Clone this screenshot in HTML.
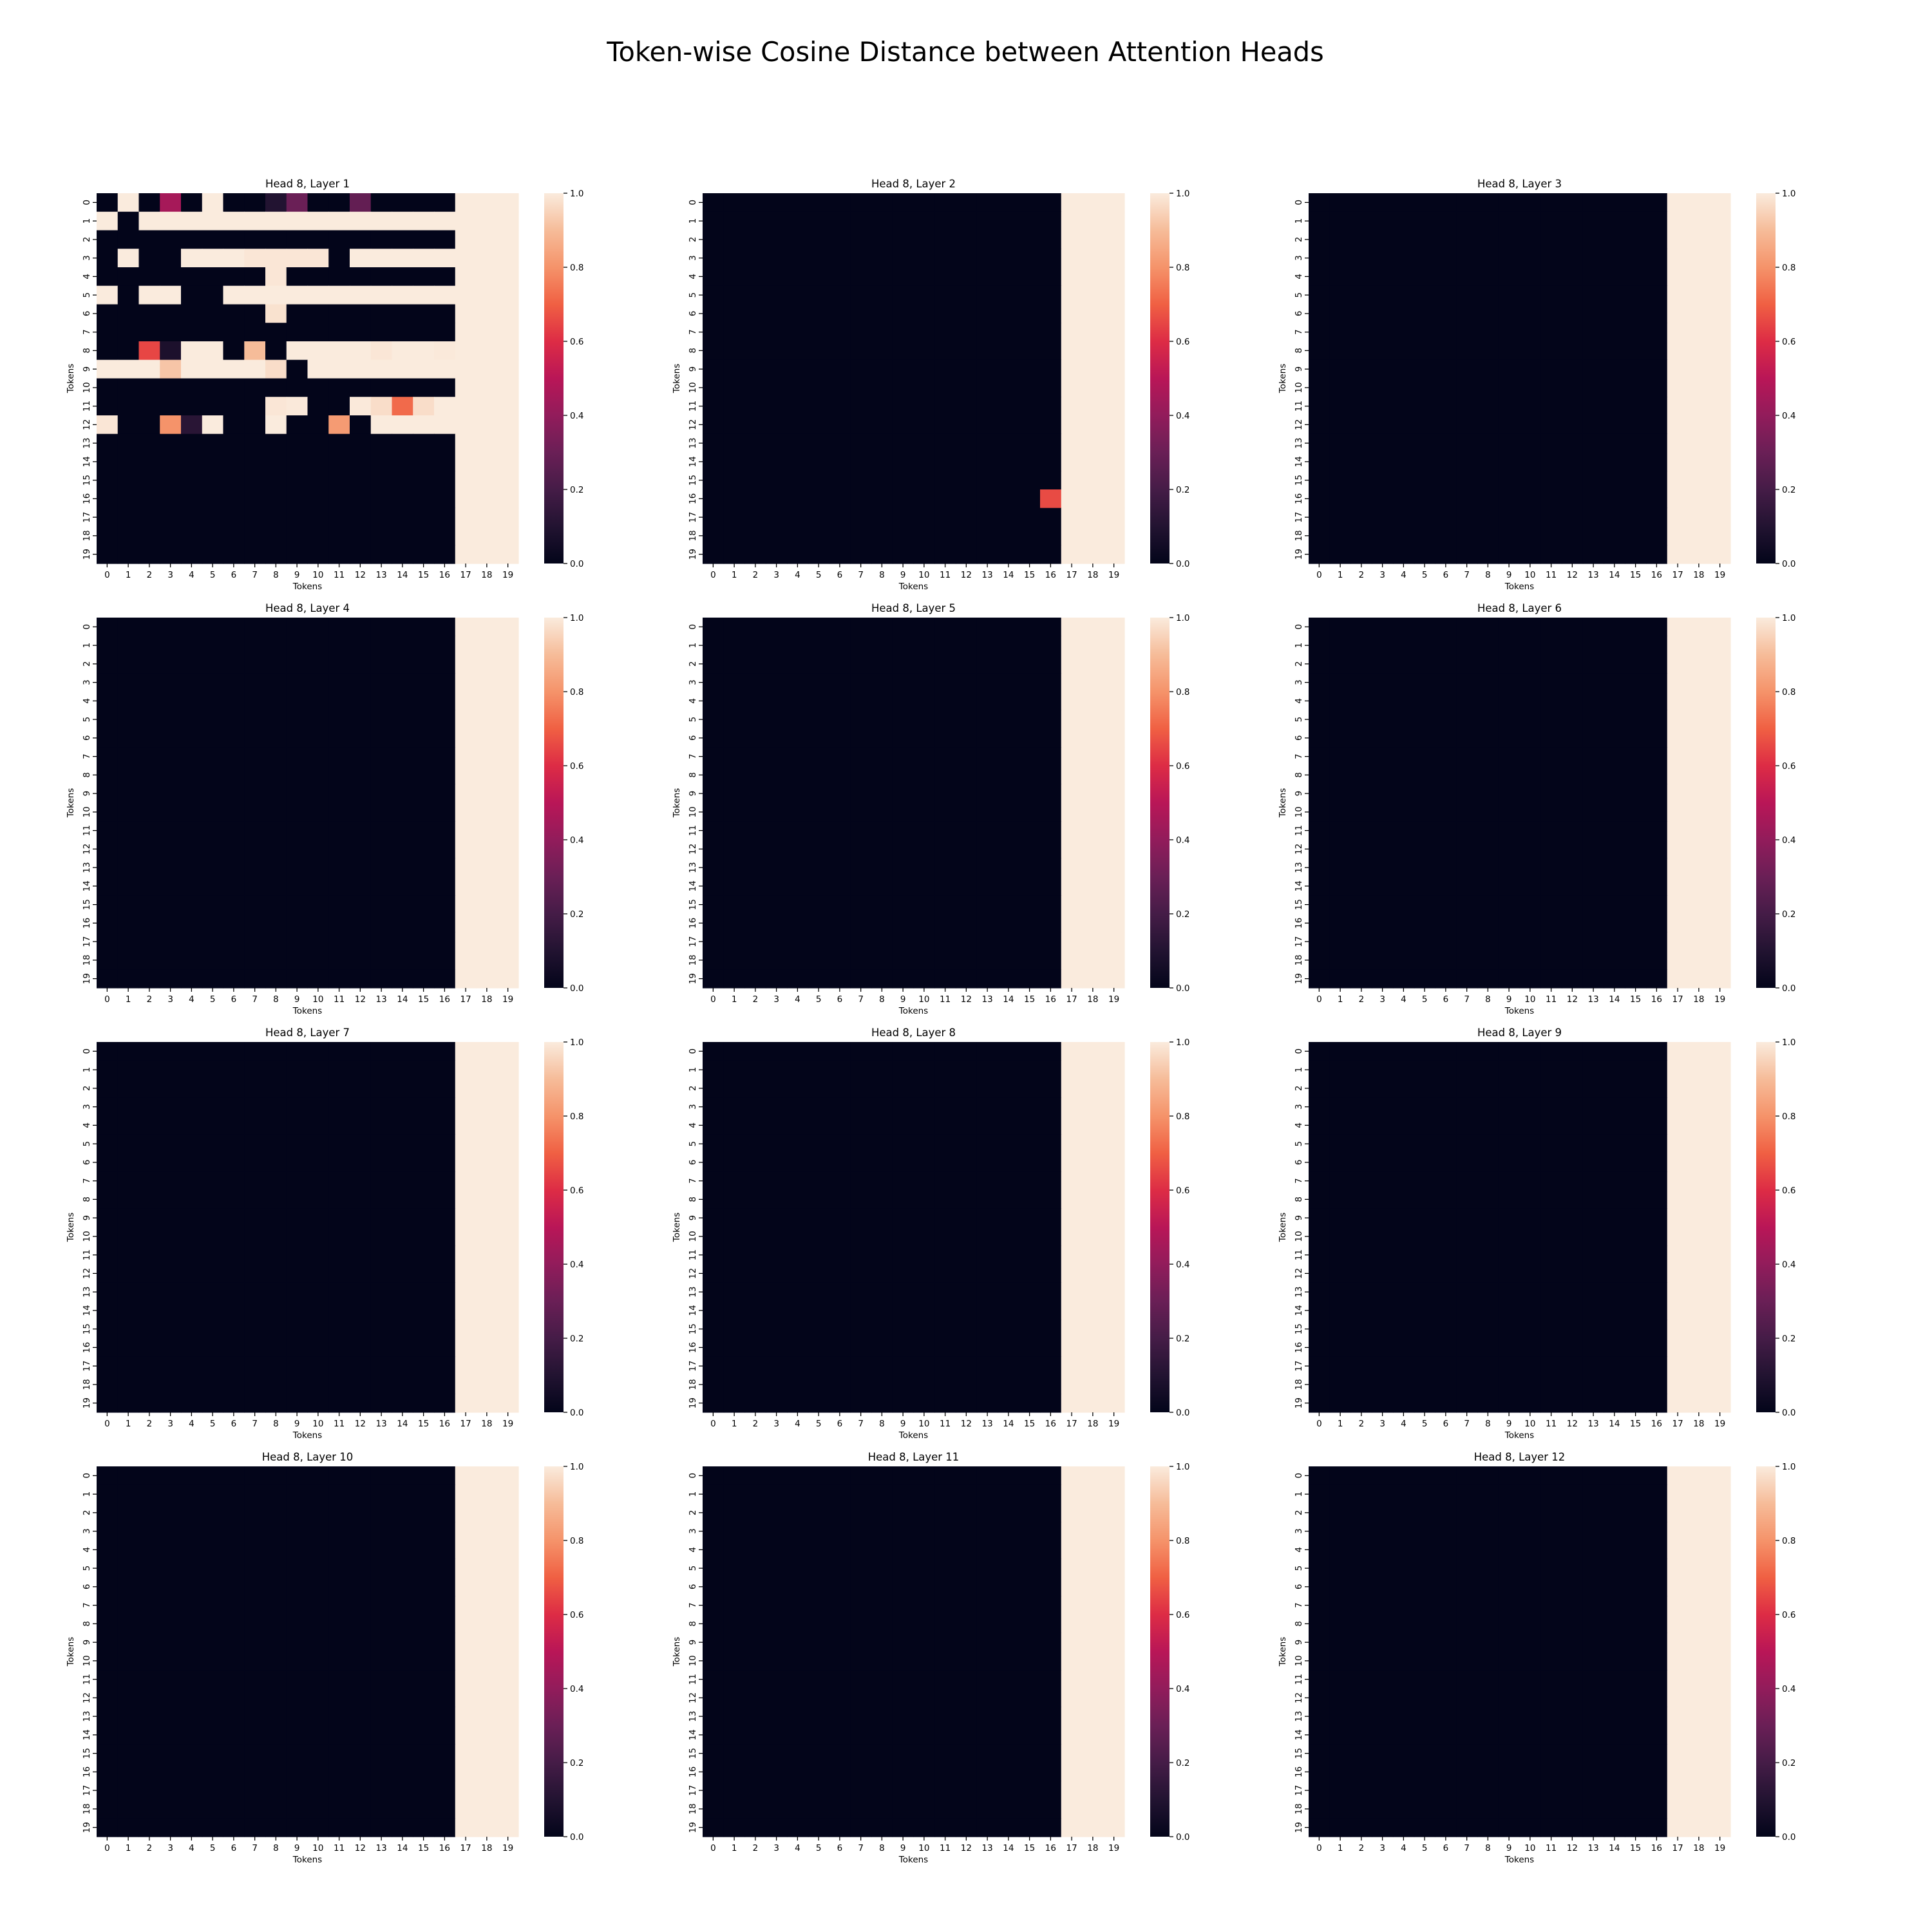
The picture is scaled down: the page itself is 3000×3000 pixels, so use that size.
<!DOCTYPE html>
<html><head><meta charset="utf-8">
<style>
html,body{margin:0;padding:0;background:#fff;}
svg{display:block;}
text{font-family:"DejaVu Sans","Liberation Sans",sans-serif;fill:#000;}
</style></head>
<body>
<svg id="fig" xmlns="http://www.w3.org/2000/svg" width="3000" height="3000" viewBox="0 0 3000 3000">
<rect x="0" y="0" width="3000" height="3000" fill="#fff"/>
<text x="1499" y="95" font-size="41.5" text-anchor="middle">Token-wise Cosine Distance between Attention Heads</text>
<defs>
<linearGradient id="rocket" x1="0" y1="1" x2="0" y2="0">
<stop offset="0" stop-color="#03051a"/><stop offset="0.1" stop-color="#221331"/>
<stop offset="0.2" stop-color="#451c47"/><stop offset="0.3" stop-color="#6a1f56"/>
<stop offset="0.4" stop-color="#921c5b"/><stop offset="0.5" stop-color="#b91657"/>
<stop offset="0.6" stop-color="#dd2c45"/><stop offset="0.7" stop-color="#f06043"/>
<stop offset="0.8" stop-color="#f5936a"/><stop offset="0.9" stop-color="#f6bc99"/>
<stop offset="1" stop-color="#faebdd"/>
</linearGradient>
</defs>
<g id="panels"></g>
</svg>
<script>
const tokens = [0,1,2,3,4,5,6,7,8,9,10,11,12,13,14,15,16,17,18,19];
const layers = [1,2,3,4,5,6,7,8,9,10,11,12];
const cbarTicks = [0.0,0.2,0.4,0.6,0.8,1.0];
const cbarLabels = ["0.0","0.2","0.4","0.6","0.8","1.0"];
const layer1Rows = [
 [0,1,0,0.45,0,1,0,0,0.1,0.3,0,0,0.28,0,0,0,0,1,1,1],
 [1,0,1,1,1,1,1,1,1,1,1,1,1,1,1,1,1,1,1,1],
 [0,0,0,0,0,0,0,0,0,0,0,0,0,0,0,0,0,1,1,1],
 [0,1,0,0,1,1,1,0.99,0.99,0.99,0.99,0,1,1,1,1,1,1,1,1],
 [0,0,0,0,0,0,0,0,0.99,0,0,0,0,0,0,0,0,1,1,1],
 [1,0,1,1,0,0,1,1,1,1,1,1,1,1,1,1,1,1,1,1],
 [0,0,0,0,0,0,0,0,0.98,0,0,0,0,0,0,0,0,1,1,1],
 [0,0,0,0,0,0,0,0,0,0,0,0,0,0,0,0,0,1,1,1],
 [0,0,0.65,0.08,1,1,0,0.9,0,1,1,1,1,0.99,1,1,0.995,1,1,1],
 [1,1,1,0.92,1,1,1,1,0.97,0,1,1,1,1,1,1,1,1,1,1],
 [0,0,0,0,0,0,0,0,0,0,0,0,0,0,0,0,0,1,1,1],
 [0,0,0,0,0,0,0,0,0.99,0.995,0,0,0.995,0.97,0.72,0.97,1,1,1,1],
 [0.99,0,0,0.8,0.12,1,0,0,1,0,0,0.82,0,1,1,1,1,1,1,1],
 [0,0,0,0,0,0,0,0,0,0,0,0,0,0,0,0,0,1,1,1],
 [0,0,0,0,0,0,0,0,0,0,0,0,0,0,0,0,0,1,1,1],
 [0,0,0,0,0,0,0,0,0,0,0,0,0,0,0,0,0,1,1,1],
 [0,0,0,0,0,0,0,0,0,0,0,0,0,0,0,0,0,1,1,1],
 [0,0,0,0,0,0,0,0,0,0,0,0,0,0,0,0,0,1,1,1],
 [0,0,0,0,0,0,0,0,0,0,0,0,0,0,0,0,0,1,1,1],
 [0,0,0,0,0,0,0,0,0,0,0,0,0,0,0,0,0,1,1,1]
];
const baseRow = [0,0,0,0,0,0,0,0,0,0,0,0,0,0,0,0,0,1,1,1];
const layer2Cells = [[16,16,0.66]]; // [row, col, value]

const stops = [[0,"#03051a"],[0.1,"#221331"],[0.2,"#451c47"],[0.3,"#6a1f56"],[0.4,"#921c5b"],[0.5,"#b91657"],[0.6,"#dd2c45"],[0.7,"#f06043"],[0.8,"#f5936a"],[0.9,"#f6bc99"],[1,"#faebdd"]];
function hex(h){return [1,3,5].map(i=>parseInt(h.substr(i,2),16));}
function color(v){
  v=Math.max(0,Math.min(1,v));
  for(let i=0;i<stops.length-1;i++){
    const [a,ca]=stops[i],[b,cb]=stops[i+1];
    if(v<=b){const t=(v-a)/(b-a);const A=hex(ca),B=hex(cb);
      return "rgb("+A.map((x,k)=>Math.round(x+(B[k]-x)*t)).join(",")+")";}
  }
  return stops[stops.length-1][1];
}
function matrixFor(layer){
  if(layer===1) return layer1Rows;
  const m = tokens.map(()=>baseRow.slice());
  if(layer===2) layer2Cells.forEach(([r,c,v])=>{m[r][c]=v;});
  return m;
}
const NS="http://www.w3.org/2000/svg";
const root=document.getElementById("panels");
function mk(tag,attrs,parent){const e=document.createElementNS(NS,tag);for(const k in attrs)e.setAttribute(k,attrs[k]);parent.appendChild(e);return e;}
const W=655,H=575,CW=W/tokens.length,CH=H/tokens.length;
layers.forEach((layer,idx)=>{
  const px=150+(idx%3)*941, py=300+Math.floor(idx/3)*659;
  const g=mk("g",{},root);
  
  
  const xs=i=>px+i*CW, ys=i=>py+i*CH;
  const m=matrixFor(layer);
  m.forEach((row,r)=>row.forEach((v,c)=>{
    const rc=mk("rect",{x:xs(c).toFixed(2),y:ys(r).toFixed(2),width:(CW+0.6).toFixed(2),height:(CH+0.6).toFixed(2),fill:color(v)},g);
    
    
  }));
  const t=mk("text",{x:px+W/2,y:py-9,"font-size":16.5,"text-anchor":"middle"},g);
  
  
  t.textContent="Head 8, Layer "+layer;
  tokens.forEach((tk,i)=>{
    const cx=xs(i)+CW/2;
    mk("line",{x1:cx,y1:py+H,x2:cx,y2:py+H+6,stroke:"#000","stroke-width":1.3},g);
    const xl=mk("text",{x:cx,y:py+H+22,"font-size":13.5,"text-anchor":"middle"},g);
    
    
    xl.textContent=tk;
    const cy=ys(i)+CH/2;
    mk("line",{x1:px-6,y1:cy,x2:px,y2:cy,stroke:"#000","stroke-width":1.3},g);
    const yl=mk("text",{x:0,y:0,"font-size":13.5,"text-anchor":"middle",transform:"translate("+(px-11)+","+cy+") rotate(-90)"},g);
    
    
    yl.textContent=tk;
  });
  const xt=mk("text",{x:px+W/2,y:py+H+40,"font-size":13.5,"text-anchor":"middle"},g);
  
  
  xt.textContent="Tokens";
  const yt=mk("text",{x:0,y:0,"font-size":13.5,"text-anchor":"middle",transform:"translate("+(px-36)+","+(py+H/2)+") rotate(-90)"},g);
  
  
  yt.textContent="Tokens";
  const cbx=px+695, cbw=30;
  const cb=mk("rect",{x:cbx,y:py,width:cbw,height:H,fill:"url(#rocket)"},g);
  
  
  cbarTicks.forEach((v,i)=>{
    const cy=py+H-v*H;
    mk("line",{x1:cbx+cbw,y1:cy,x2:cbx+cbw+6,y2:cy,stroke:"#000","stroke-width":1.3},g);
    const cl=mk("text",{x:cbx+cbw+10,y:cy+5,"font-size":13.5},g);
    
    
    cl.textContent=cbarLabels[i];
  });
});
</script>
</body></html>
